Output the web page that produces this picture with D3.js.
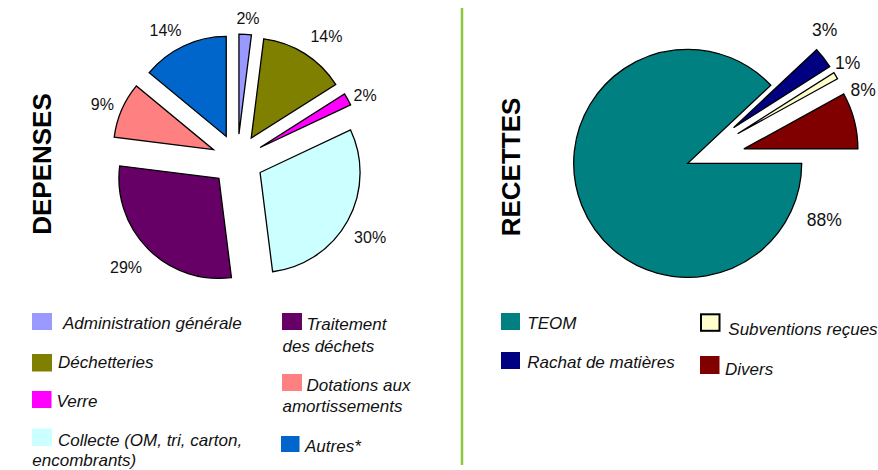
<!DOCTYPE html>
<html>
<head>
<meta charset="utf-8">
<script src="https://cdn.jsdelivr.net/npm/d3@7/dist/d3.min.js"></script>
<style>
  html, body { margin: 0; padding: 0; background: #fff; }
  svg { display: block; font-family: "Liberation Sans", Arial, Helvetica, sans-serif; }
</style>
</head>
<body>
<svg id="chart" width="878" height="470"></svg>
<script>
// ---------------- DATA ----------------
const depensesCategories = ["Administration générale", "Déchetteries", "Verre",
  "Collecte (OM, tri, carton, encombrants)", "Traitement des déchets",
  "Dotations aux amortissements", "Autres*"];
const depensesValues = [2, 14, 2, 30, 29, 9, 14];
const depensesLabels = ["2%", "14%", "2%", "30%", "29%", "9%", "14%"];

const recettesCategories = ["TEOM", "Rachat de matières", "Subventions reçues", "Divers"];
const recettesValues = [88, 3, 1, 8];
const recettesLabels = ["88%", "3%", "1%", "8%"];

// ---------------- STYLE / LAYOUT ----------------
const depensesColors = ["#9999FF", "#808000", "#FF00FF", "#CCFFFF", "#660066", "#FF8080", "#0066CC"];
const recettesColors = ["#008080", "#000080", "#FFFFCC", "#800000"];

const svg = d3.select("#chart");
const toRad = d => d * Math.PI / 180;

// divider line
svg.append("line")
  .attr("x1", 462).attr("x2", 462).attr("y1", 8).attr("y2", 465)
  .attr("stroke", "#8DC63F").attr("stroke-width", 2.5);

// titles
svg.append("text")
  .attr("transform", "translate(42,164) rotate(-90)")
  .attr("text-anchor", "middle").attr("dominant-baseline", "central")
  .attr("font-size", 26).attr("font-weight", "bold").attr("fill", "#000")
  .text("DEPENSES");
svg.append("text")
  .attr("transform", "translate(511,167) rotate(-90)")
  .attr("text-anchor", "middle").attr("dominant-baseline", "central")
  .attr("font-size", 26).attr("font-weight", "bold").attr("fill", "#000")
  .text("RECETTES");

function drawPie(opts) {
  const pie = d3.pie().sort(null).value(d => d)
    .startAngle(opts.startAngle).endAngle(opts.startAngle + 2 * Math.PI);
  const arcs = pie(opts.values);
  const arc = d3.arc().innerRadius(0).outerRadius(opts.radius);
  const g = svg.append("g").attr("transform", `translate(${opts.cx},${opts.cy})`);
  g.selectAll("path").data(arcs).join("path")
    .attr("d", arc)
    .attr("transform", (d, i) => {
      const m = (d.startAngle + d.endAngle) / 2;
      const off = opts.explode[i];
      return `translate(${off * Math.sin(m)},${-off * Math.cos(m)})`;
    })
    .attr("fill", (d, i) => opts.colors[i])
    .attr("stroke", "#000").attr("stroke-width", 1.3).attr("stroke-linejoin", "miter");
  g.selectAll("text.lbl").data(arcs).join("text")
    .attr("class", "lbl")
    .attr("x", (d, i) => opts.labelR[i] * Math.sin(toRad(opts.labelA[i])))
    .attr("y", (d, i) => -opts.labelR[i] * Math.cos(toRad(opts.labelA[i])))
    .attr("text-anchor", "middle").attr("dominant-baseline", "central")
    .attr("font-size", opts.fontSize).attr("fill", "#111")
    .text((d, i) => opts.labels[i]);
}

drawPie({
  cx: 237.3, cy: 160, radius: 100, startAngle: 0,
  values: depensesValues, colors: depensesColors, labels: depensesLabels,
  explode: [26, 26, 26, 26, 26, 26, 26],
  labelA: [4.3, 35.9, 63.3, 120.4, 225.9, 292.5, 331],
  labelR: [142, 152, 143, 154, 155, 146, 148],
  fontSize: 16
});

drawPie({
  cx: 687.7, cy: 163.3, radius: 114, startAngle: Math.PI / 2,
  values: recettesValues, colors: recettesColors, labels: recettesLabels,
  explode: [0, 58, 58, 58],
  labelA: [112.6, 45.8, 57.8, 67.4],
  labelR: [148, 191, 189, 190],
  fontSize: 17.5
});

// ---------------- LEGENDS ----------------
function legend(items) {
  const g = svg.append("g");
  items.forEach(it => {
    g.append("rect")
      .attr("x", it.sx).attr("y", it.sy).attr("width", it.sw).attr("height", it.sh)
      .attr("fill", it.color)
      .attr("stroke", it.border ? "#000" : "none").attr("stroke-width", it.border ? 2 : 0);
    const t = g.append("text")
      .attr("font-size", it.fs).attr("font-style", "italic").attr("fill", "#111");
    it.lines.forEach((ln, j) => {
      t.append("tspan").attr("x", ln[0]).attr("y", ln[1]).text(ln[2]);
    });
  });
}

legend([
  { color: depensesColors[0], sx: 32, sy: 313, sw: 20, sh: 17, fs: 17,
    lines: [[63, 329, depensesCategories[0]]] },
  { color: depensesColors[1], sx: 32, sy: 354, sw: 20, sh: 17.5, fs: 17,
    lines: [[58, 368, "Déchetteries"]] },
  { color: depensesColors[2], sx: 32, sy: 391, sw: 19.5, sh: 17, fs: 17,
    lines: [[56.5, 406.5, "Verre"]] },
  { color: depensesColors[3], sx: 32, sy: 428.5, sw: 20, sh: 17.5, fs: 17,
    lines: [[58, 446, "Collecte (OM, tri, carton,"], [32.3, 466, "encombrants)"]] },
  { color: depensesColors[4], sx: 282, sy: 313, sw: 20, sh: 17, fs: 17,
    lines: [[306.5, 329.5, "Traitement"], [282.5, 352, "des déchets"]] },
  { color: depensesColors[5], sx: 282, sy: 374, sw: 20, sh: 17, fs: 17,
    lines: [[306.5, 391, "Dotations aux"], [282.5, 412, "amortissements"]] },
  { color: depensesColors[6], sx: 281, sy: 436, sw: 18.5, sh: 16, fs: 17,
    lines: [[305, 451.5, "Autres*"]] },

  { color: recettesColors[0], sx: 501, sy: 313, sw: 19, sh: 17, fs: 17,
    lines: [[527.3, 329, recettesCategories[0]]] },
  { color: recettesColors[1], sx: 501, sy: 352, sw: 19, sh: 17, fs: 17,
    lines: [[527.3, 368, recettesCategories[1]]] },
  { color: recettesColors[2], sx: 701, sy: 314.3, sw: 18.5, sh: 16.5, fs: 17, border: true,
    lines: [[728.3, 334.5, recettesCategories[2]]] },
  { color: recettesColors[3], sx: 700, sy: 356, sw: 19.5, sh: 18, fs: 17,
    lines: [[725, 374.5, recettesCategories[3]]] }
]);
</script>
</body>
</html>
